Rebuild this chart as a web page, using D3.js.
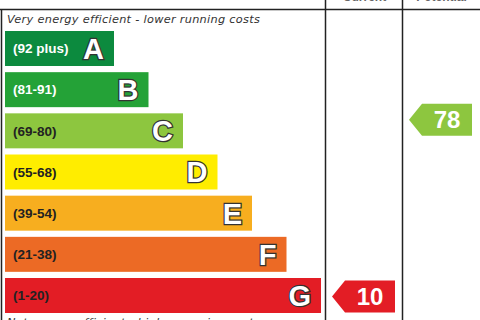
<!DOCTYPE html>
<html>
<head>
<meta charset="utf-8">
<script src="https://cdn.jsdelivr.net/npm/d3@7"></script>
<style>
  body { margin: 0; background: #fff; }
  svg { display: block; }
</style>
</head>
<body>
<div id="chart"></div>
<script>
  var bands = ["A", "B", "C", "D", "E", "F", "G"];
  var ranges = ["(92 plus)", "(81-91)", "(69-80)", "(55-68)", "(39-54)", "(21-38)", "(1-20)"];
  var lows = [92, 81, 69, 55, 39, 21, 1];
  var highs = [100, 91, 80, 68, 54, 38, 20];
  var colors = ["#0c8a3e", "#24a237", "#8dc63f", "#ffed00", "#f7ae1f", "#ec6a25", "#e31d25"];
  var columns = ["Current", "Potential"];
  var scores = [10, 78];

  var width = 480, height = 320;

  var svg = d3.select("#chart").append("svg")
      .attr("width", width)
      .attr("height", height)
      .style("font-family", "Arial, 'Liberation Sans', sans-serif");

  var y = d3.scaleBand()
      .domain(bands)
      .range([31, 313])
      .paddingInner(0.15)
      .paddingOuter(0);

  // right edge of each band bar
  var barEnd = d3.scaleLinear().domain([0, 6]).range([114, 321]);

  var colX = [326, 403, 480];

  // map score into band position (higher score sits higher in its band)
  function bandOf(s) {
    for (var i = 0; i < bands.length; i++) {
      if (s >= lows[i] && s <= highs[i]) return i;
    }
    return bands.length - 1;
  }
  function scoreY(s) {
    var i = bandOf(s);
    var t = (highs[i] - s) / (highs[i] - lows[i]);
    return y(bands[i]) + t * y.bandwidth();
  }

  // frame lines
  var frame = svg.append("g").attr("stroke", "#222").attr("stroke-width", 1.5);
  frame.append("line").attr("x1", 0).attr("x2", width).attr("y1", 9.5).attr("y2", 9.5);
  frame.append("line").attr("x1", 1.5).attr("x2", 1.5).attr("y1", 9.5).attr("y2", height);
  frame.selectAll(".col")
      .data(colX.slice(0, 2))
      .enter().append("line")
      .attr("x1", function(d) { return d - 0.5; })
      .attr("x2", function(d) { return d - 0.5; })
      .attr("y1", 0).attr("y2", height);

  // header text, mostly cut off at top
  svg.selectAll(".head")
      .data(columns)
      .enter().append("text")
      .attr("x", function(d, i) { return (colX[i] + colX[i + 1]) / 2; })
      .attr("y", 0.5)
      .attr("text-anchor", "middle")
      .attr("font-size", 12)
      .attr("font-weight", "bold")
      .attr("fill", "#666")
      .text(function(d) { return d; });

  var note = svg.append("g")
      .attr("font-family", "'DejaVu Sans', sans-serif")
      .attr("font-size", 11.3)
      .attr("font-style", "italic")
      .attr("fill", "#333");

  note.append("text")
      .attr("x", 7).attr("y", 23)
      .attr("letter-spacing", 0.3)
      .text("Very energy efficient - lower running costs");

  note.append("text")
      .attr("x", 7).attr("y", 326)
      .attr("letter-spacing", 0.3)
      .text("Not energy efficient - higher running costs");

  var row = svg.append("g").selectAll(".band")
      .data(bands)
      .enter().append("g")
      .attr("class", "band")
      .attr("transform", function(d) { return "translate(0," + y(d) + ")"; });

  row.append("rect")
      .attr("x", 5)
      .attr("width", function(d, i) { return barEnd(i) - 5; })
      .attr("height", y.bandwidth())
      .attr("fill", function(d, i) { return colors[i]; });

  row.append("text")
      .attr("x", 13)
      .attr("y", y.bandwidth() / 2)
      .attr("dy", ".35em")
      .attr("font-size", 13.5)
      .attr("font-weight", "bold")
      .attr("fill", function(d, i) { return i < 2 ? "#fff" : "#222"; })
      .text(function(d, i) { return ranges[i]; });

  row.append("text")
      .attr("x", function(d, i) { return barEnd(i) - 10; })
      .attr("y", y.bandwidth() / 2)
      .attr("dy", ".36em")
      .attr("text-anchor", "end")
      .attr("font-size", 29)
      .attr("font-weight", "bold")
      .attr("fill", "#fff")
      .attr("stroke", "#333")
      .attr("stroke-width", 2.5)
      .attr("paint-order", "stroke")
      .text(function(d) { return d; });

  // rating arrows
  var arrowH = 32, tip = 13;
  var arrow = svg.append("g").selectAll(".arrow")
      .data(scores)
      .enter().append("g")
      .attr("transform", function(d, i) { return "translate(" + (colX[i] + 6) + "," + scoreY(d) + ")"; });

  arrow.append("path")
      .attr("d", function() {
        var w = 63, h = arrowH / 2;
        return "M0,0L" + tip + "," + (-h) + "L" + w + "," + (-h) + "L" + w + "," + h + "L" + tip + "," + h + "Z";
      })
      .attr("fill", function(d) { return colors[bandOf(d)]; });

  arrow.append("text")
      .attr("x", 38)
      .attr("dy", ".36em")
      .attr("text-anchor", "middle")
      .attr("font-size", 24)
      .attr("font-weight", "bold")
      .attr("fill", "#fff")
      .text(function(d) { return d; });
</script>
</body>
</html>
